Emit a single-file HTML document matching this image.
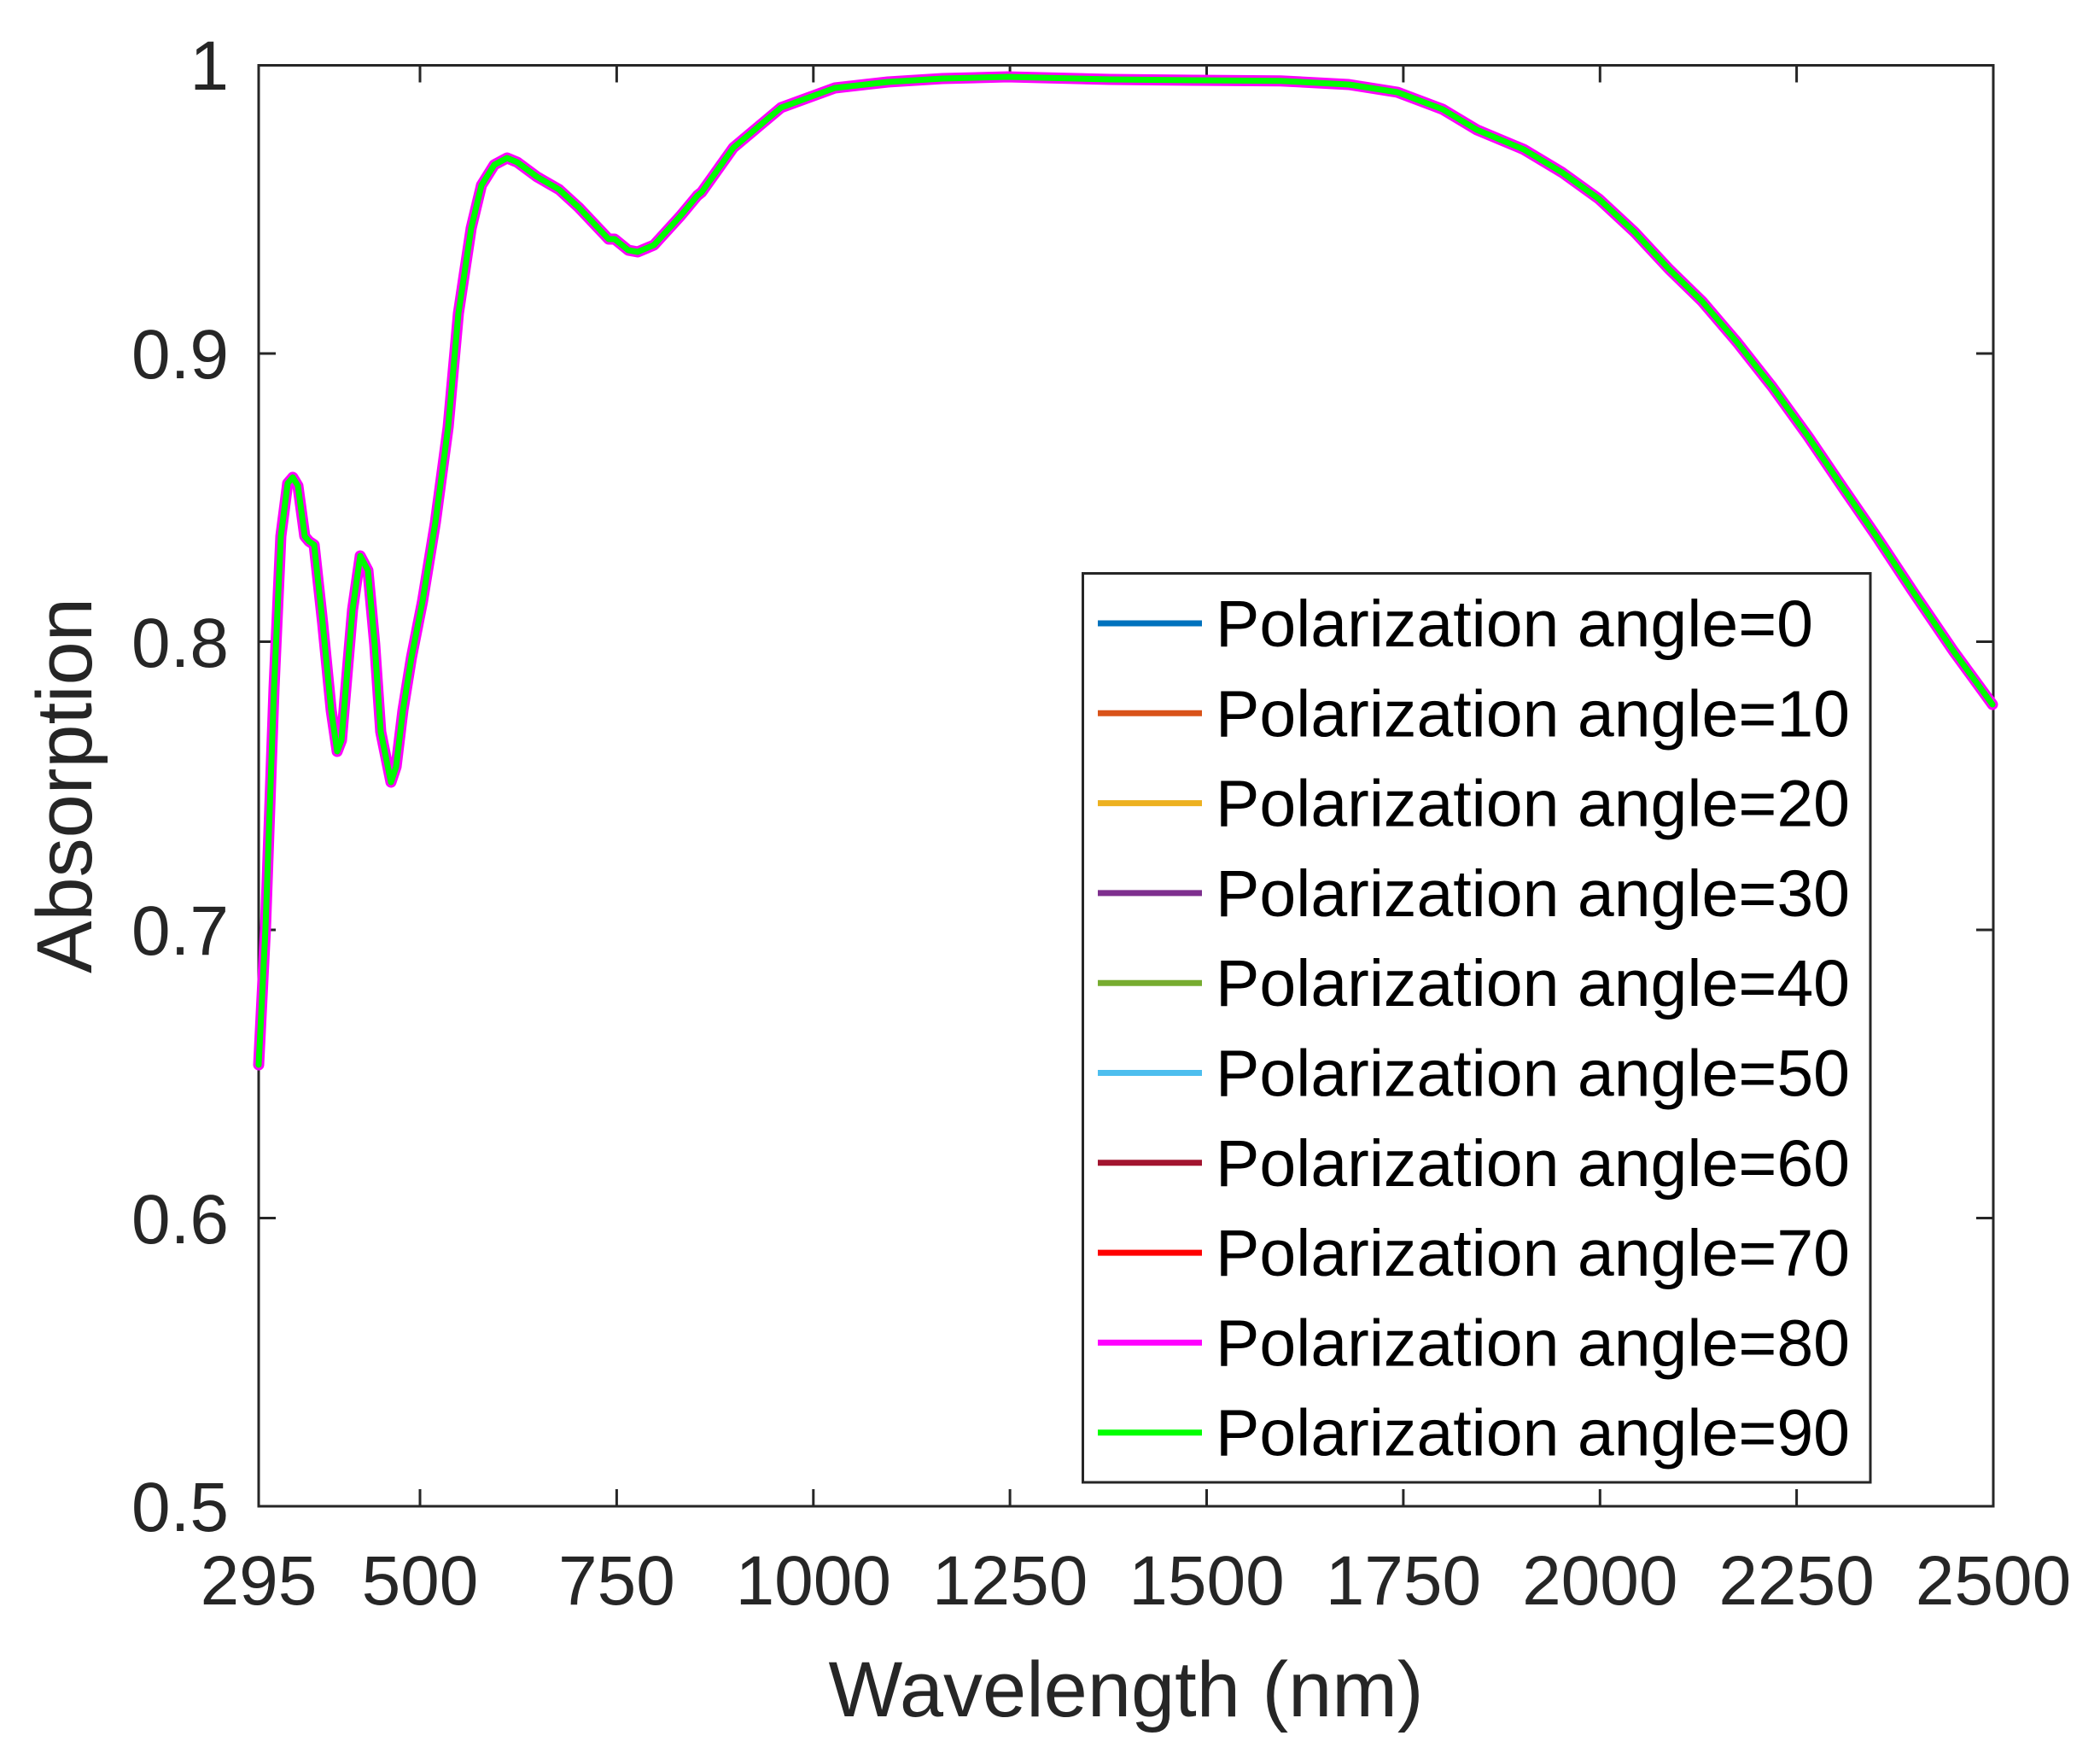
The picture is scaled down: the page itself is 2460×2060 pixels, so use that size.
<!DOCTYPE html>
<html><head><meta charset="utf-8"><style>
html,body{margin:0;padding:0;background:#fff;}
svg{display:block;}
text{font-family:"Liberation Sans",Arial,sans-serif;fill:#262626;}
</style></head><body>
<svg width="2460" height="2060" viewBox="0 0 2460 2060" xmlns="http://www.w3.org/2000/svg">
<rect width="2460" height="2060" fill="#fff"/>
<g stroke="#262626" stroke-width="3" fill="none">
<rect x="303" y="76.5" width="2032" height="1687.5"/>
<path d="M492,1764v-20M722.4,1764v-20M952.8,1764v-20M1183.1,1764v-20M1413.5,1764v-20M1643.9,1764v-20M1874.3,1764v-20M2104.6,1764v-20
M492,76.5v20M722.4,76.5v20M952.8,76.5v20M1183.1,76.5v20M1413.5,76.5v20M1643.9,76.5v20M1874.3,76.5v20M2104.6,76.5v20
M303,414h20M303,751.5h20M303,1089h20M303,1426.5h20
M2335,414h-20M2335,751.5h-20M2335,1089h-20M2335,1426.5h-20"/>
</g>
<g font-size="82" text-anchor="end">
<text x="268" y="105">1</text>
<text x="268" y="443">0.9</text>
<text x="268" y="781">0.8</text>
<text x="268" y="1118">0.7</text>
<text x="268" y="1456">0.6</text>
<text x="268" y="1793">0.5</text>
</g>
<g font-size="82" text-anchor="middle">
<text x="303" y="1879">295</text>
<text x="492" y="1879">500</text>
<text x="722.4" y="1879">750</text>
<text x="952.8" y="1879">1000</text>
<text x="1183.1" y="1879">1250</text>
<text x="1413.5" y="1879">1500</text>
<text x="1643.9" y="1879">1750</text>
<text x="1874.3" y="1879">2000</text>
<text x="2104.6" y="1879">2250</text>
<text x="2335" y="1879">2500</text>
</g>
<text x="1319" y="2010" font-size="92" text-anchor="middle">Wavelength (nm)</text>
<text transform="translate(107,920) rotate(-90)" font-size="92" text-anchor="middle">Absorption</text>
<g fill="none" stroke-linejoin="round" stroke-linecap="round">
<polyline stroke="#FF00FF" stroke-width="13" points="303,1247 311,1087 321,806 329,628 337,566 343,559 349,569 357,628 362,634 368,638 378,730 388,832 395,880 400,867 406,796 413,714 422,651 431,668 439,755 446,857 458,916 464,898 472,832 482,770 495,704 510,612 525,500 537,367 552,267 564,217 579,193 594,185 606,190 629,207 655,222 678,243 713,280 720,280 736,293 747,295 766,287 797,253 817,229 822,225 859,173 915,126 978,103 1040,96 1104,92 1180,90 1300,93 1400,94 1500,94.7 1580,99 1637,108 1690,128 1730,152 1785,175 1830,202 1873,233 1915,272 1955,315 1994,353 2035,401 2076,453 2118,511 2158,570 2200,631 2241,693 2288,762 2334,825"/>
<polyline stroke="#00FF00" stroke-width="7" points="303,1247 311,1087 321,806 329,628 337,566 343,559 349,569 357,628 362,634 368,638 378,730 388,832 395,880 400,867 406,796 413,714 422,651 431,668 439,755 446,857 458,916 464,898 472,832 482,770 495,704 510,612 525,500 537,367 552,267 564,217 579,193 594,185 606,190 629,207 655,222 678,243 713,280 720,280 736,293 747,295 766,287 797,253 817,229 822,225 859,173 915,126 978,103 1040,96 1104,92 1180,90 1300,93 1400,94 1500,94.7 1580,99 1637,108 1690,128 1730,152 1785,175 1830,202 1873,233 1915,272 1955,315 1994,353 2035,401 2076,453 2118,511 2158,570 2200,631 2241,693 2288,762 2334,825"/>
</g>
<rect x="1268.5" y="671.5" width="922.5" height="1064.5" fill="#fff" stroke="#262626" stroke-width="3"/>
<g stroke-width="7">
<line x1="1286" x2="1408" y1="730" y2="730" stroke="#0072BD"/>
<line x1="1286" x2="1408" y1="835.3" y2="835.3" stroke="#D95319"/>
<line x1="1286" x2="1408" y1="940.6" y2="940.6" stroke="#EDB120"/>
<line x1="1286" x2="1408" y1="1045.9" y2="1045.9" stroke="#7E2F8E"/>
<line x1="1286" x2="1408" y1="1151.2" y2="1151.2" stroke="#77AC30"/>
<line x1="1286" x2="1408" y1="1256.5" y2="1256.5" stroke="#4DBEEE"/>
<line x1="1286" x2="1408" y1="1361.8" y2="1361.8" stroke="#A2142F"/>
<line x1="1286" x2="1408" y1="1467.1" y2="1467.1" stroke="#FF0000"/>
<line x1="1286" x2="1408" y1="1572.4" y2="1572.4" stroke="#FF00FF"/>
<line x1="1286" x2="1408" y1="1677.7" y2="1677.7" stroke="#00FF00"/>
</g>
<g font-size="77">
<text x="1424" y="757" style="fill:#000" textLength="700" lengthAdjust="spacingAndGlyphs">Polarization angle=0</text>
<text x="1424" y="862.3" style="fill:#000" textLength="743" lengthAdjust="spacingAndGlyphs">Polarization angle=10</text>
<text x="1424" y="967.6" style="fill:#000" textLength="743" lengthAdjust="spacingAndGlyphs">Polarization angle=20</text>
<text x="1424" y="1072.9" style="fill:#000" textLength="743" lengthAdjust="spacingAndGlyphs">Polarization angle=30</text>
<text x="1424" y="1178.2" style="fill:#000" textLength="743" lengthAdjust="spacingAndGlyphs">Polarization angle=40</text>
<text x="1424" y="1283.5" style="fill:#000" textLength="743" lengthAdjust="spacingAndGlyphs">Polarization angle=50</text>
<text x="1424" y="1388.8" style="fill:#000" textLength="743" lengthAdjust="spacingAndGlyphs">Polarization angle=60</text>
<text x="1424" y="1494.1" style="fill:#000" textLength="743" lengthAdjust="spacingAndGlyphs">Polarization angle=70</text>
<text x="1424" y="1599.4" style="fill:#000" textLength="743" lengthAdjust="spacingAndGlyphs">Polarization angle=80</text>
<text x="1424" y="1704.7" style="fill:#000" textLength="743" lengthAdjust="spacingAndGlyphs">Polarization angle=90</text>
</g>
</svg>
</body></html>
